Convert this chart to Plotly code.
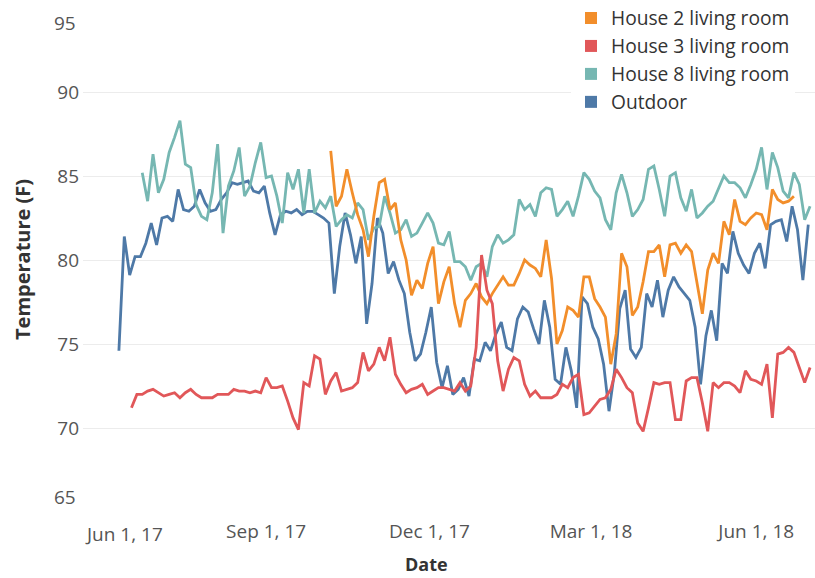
import pandas as pd
import plotly.graph_objects as go

# ---------------- data ----------------
series_names = ["House 2 living room", "House 3 living room", "House 8 living room", "Outdoor"]
series_colors = ["#f28e2b", "#e15759", "#76b7b2", "#4e79a7"]

outdoor_start = "2017-06-11"
outdoor_values = [
    74.6, 81.4, 79.1, 80.2, 80.2, 81.0, 82.2, 80.9, 82.5, 82.6,
    82.3, 84.2, 83.0, 82.9, 83.2, 84.2, 83.4, 82.9, 83.0, 83.6,
    84.0, 84.6, 84.5, 84.6, 84.7, 84.1, 84.0, 84.4, 82.8, 81.5,
    82.7, 82.9, 82.8, 83.0, 82.7, 82.9, 82.9, 82.7, 82.5, 82.2,
    78.0, 80.8, 82.8, 81.5, 79.8, 81.4, 76.2, 78.6, 82.5, 81.6,
    79.2, 79.9, 78.8, 78.0, 75.7, 74.0, 74.4, 75.7, 77.2, 73.9,
    72.4, 73.7, 72.0, 72.3, 73.0, 71.9, 74.1, 74.0, 75.1, 74.6,
    75.6, 76.3, 74.8, 74.6, 76.5, 77.2, 76.9, 75.9, 75.0, 77.6,
    76.0, 72.9, 72.6, 74.8, 73.4, 71.2, 77.8, 77.4, 76.0, 75.3,
    73.8, 71.0, 73.3, 77.1, 78.2, 74.7, 74.2, 74.8, 78.0, 77.2,
    78.8, 76.6, 78.2, 79.0, 78.4, 78.0, 77.6, 76.0, 72.6, 75.5,
    77.0, 75.2, 79.8, 79.2, 81.7, 80.4, 79.7, 79.2, 80.4, 81.0,
    79.5, 82.1, 82.3, 82.4, 81.1, 83.2, 81.8, 78.8, 82.1,
]

house8_start = "2017-06-24"
house8_values = [
    85.2, 83.5, 86.3, 84.0, 84.8, 86.4, 87.3, 88.3, 85.7, 85.5,
    83.3, 82.6, 82.4, 84.0, 86.9, 81.6, 84.4, 85.3, 86.7, 83.8,
    84.4, 85.8, 87.0, 84.9, 85.0, 83.8, 82.2, 85.2, 84.2, 85.4,
    82.8, 85.4, 82.8, 83.5, 83.1, 83.8, 82.0, 82.4, 82.7, 82.5,
    83.4, 83.0, 81.2, 81.9, 82.0, 83.8, 82.8, 81.6, 81.8, 82.4,
    81.4, 81.6, 82.2, 82.8, 82.2, 81.0, 80.9, 81.7, 79.9, 79.9,
    79.6, 78.8, 79.6, 79.8, 79.0, 80.8, 81.5, 81.0, 81.2, 81.5,
    83.6, 83.0, 83.3, 82.6, 84.0, 84.3, 84.2, 82.6, 83.0, 83.5,
    82.6, 83.8, 85.2, 84.8, 84.1, 83.7, 82.4, 81.8, 84.0, 85.1,
    84.0, 82.6, 83.0, 83.6, 85.4, 85.6, 84.2, 82.6, 85.0, 85.2,
    83.7, 82.9, 84.2, 82.5, 82.8, 83.2, 83.5, 84.3, 85.0, 84.6,
    84.6, 84.3, 83.7, 84.5, 85.4, 86.7, 84.2, 86.4, 85.5, 84.1,
    83.7, 85.2, 84.5, 82.4, 83.2,
]

house3_start = "2017-06-18"
house3_values = [
    71.2, 72.0, 72.0, 72.2, 72.3, 72.1, 71.9, 72.0, 72.1, 71.8,
    72.1, 72.3, 72.0, 71.8, 71.8, 71.8, 72.0, 72.0, 72.0, 72.3,
    72.2, 72.2, 72.1, 72.2, 72.1, 73.0, 72.4, 72.4, 72.5, 71.6,
    70.6, 69.9, 72.7, 72.5, 74.3, 74.1, 72.0, 72.8, 73.3, 72.2,
    72.3, 72.4, 72.7, 74.5, 73.4, 73.8, 74.8, 74.0, 75.4, 73.2,
    72.6, 72.1, 72.3, 72.4, 72.6, 72.0, 72.2, 72.4, 72.4, 72.3,
    72.2, 72.7, 72.2, 72.5, 74.8, 80.3, 78.2, 77.4, 74.0, 72.2,
    73.5, 74.2, 74.0, 72.6, 71.9, 72.2, 71.8, 71.8, 71.8, 72.0,
    72.6, 72.4, 73.0, 73.2, 70.8, 70.9, 71.3, 71.7, 71.8, 72.3,
    73.5, 73.0, 72.4, 72.1, 70.3, 69.8, 71.2, 72.7, 72.6, 72.7,
    72.7, 70.5, 70.5, 72.8, 73.0, 73.0, 71.5, 69.8, 72.7, 72.4,
    72.7, 72.7, 72.5, 72.1, 73.4, 72.9, 72.8, 72.6, 73.8, 70.6,
    74.4, 74.5, 74.8, 74.5, 73.6, 72.7, 73.6,
]

house2_start = "2017-10-07"
house2_values = [
    86.5, 83.2, 83.8, 85.4, 84.0, 82.7, 81.8, 80.2, 82.6, 84.6,
    84.8, 83.0, 83.4, 81.2, 80.0, 77.9, 78.8, 78.3, 79.8, 80.8,
    77.4, 78.7, 79.6, 77.4, 76.0, 77.6, 78.0, 78.6, 77.8, 77.4,
    78.0, 78.5, 79.0, 78.5, 78.5, 79.2, 80.0, 79.7, 79.5, 79.0,
    81.2, 78.9, 75.0, 75.8, 77.2, 77.0, 76.6, 79.0, 79.0, 77.7,
    77.2, 76.6, 73.8, 75.6, 80.4, 79.6, 76.7, 77.2, 78.7, 80.5,
    80.5, 80.9, 79.0, 80.9, 81.0, 80.4, 80.9, 80.5, 78.6, 76.8,
    79.4, 80.4, 79.8, 82.3, 81.5, 83.6, 82.3, 82.1, 82.5, 82.8,
    82.7, 81.8, 84.2, 83.6, 83.4, 83.5, 83.8,
]
sample_step = "3D"

y_tick_values = [65, 70, 75, 80, 85, 90, 95]
x_tick_values = ["2017-09-01", "2017-12-01", "2018-03-01", "2018-06-01"]
x_tick_labels = ["Sep 1, 17", "Dec 1, 17", "Mar 1, 18", "Jun 1, 18"]
first_x_label = "Jun 1, 17"

# ---------------- figure ----------------
FONT = "Open Sans"
TICK_COLOR = "#555555"
TITLE_COLOR = "#333333"
PLOT_L, PLOT_T, PLOT_W, PLOT_H = 83, 8, 732, 504


def dates(start, values):
    return pd.date_range(start=start, periods=len(values), freq=sample_step)


series = {
    "Outdoor": (outdoor_start, outdoor_values),
    "House 8 living room": (house8_start, house8_values),
    "House 2 living room": (house2_start, house2_values),
    "House 3 living room": (house3_start, house3_values),
}
color_of = dict(zip(series_names, series_colors))

fig = go.Figure()
for name in ["Outdoor", "House 8 living room", "House 2 living room", "House 3 living room"]:
    start, vals = series[name]
    fig.add_trace(go.Scatter(
        x=dates(start, vals), y=vals, mode="lines", name=name,
        line=dict(color=color_of[name], width=2.8),
        showlegend=False,
    ))

# legend swatches (square, Tableau style)
for name in series_names:
    fig.add_trace(go.Scatter(
        x=[None], y=[None], mode="markers", name=name,
        marker=dict(symbol="square", size=12, color=color_of[name]),
        showlegend=True,
    ))

annotations = [
    dict(text="95", xref="paper", x=0, xanchor="right", xshift=-5,
         yref="y", y=95, yanchor="top", showarrow=False,
         font=dict(family=FONT, size=19, color=TICK_COLOR)),
    dict(text="65", xref="paper", x=0, xanchor="right", xshift=-5,
         yref="y", y=65, yanchor="bottom", showarrow=False,
         font=dict(family=FONT, size=19, color=TICK_COLOR)),
    dict(text=first_x_label, xref="paper", x=0, xanchor="left", xshift=0,
         yref="paper", y=0, yanchor="top", yshift=-7, showarrow=False,
         font=dict(family=FONT, size=19, color=TICK_COLOR)),
    dict(text="<b>Date</b>", xref="paper", x=(426 - PLOT_L) / PLOT_W, xanchor="center",
         yref="paper", y=0, yanchor="middle", yshift=-52, showarrow=False,
         font=dict(family=FONT, size=18, color=TITLE_COLOR)),
    dict(text="<b>Temperature (F)</b>", xref="paper", x=0, xanchor="center",
         xshift=-61, yref="paper", y=0.5, yanchor="middle", textangle=-90,
         showarrow=False, font=dict(family=FONT, size=20, color=TITLE_COLOR)),
]

fig.update_layout(
    width=815, height=578,
    margin=dict(l=PLOT_L, r=0, t=PLOT_T, b=578 - PLOT_T - PLOT_H, autoexpand=False),
    paper_bgcolor="white", plot_bgcolor="white",
    font=dict(family=FONT, size=19, color=TICK_COLOR),
    showlegend=True,
    legend=dict(
        xref="paper", yref="paper",
        x=(571 - PLOT_L) / PLOT_W, y=1 + 9 / PLOT_H,
        xanchor="left", yanchor="top",
        bgcolor="white", borderwidth=0,
        font=dict(family=FONT, size=19.2, color=TITLE_COLOR),
        itemwidth=30, tracegroupgap=0,
    ),
    annotations=annotations,
    xaxis=dict(
        type="date",
        range=["2017-05-22", "2018-07-03 18:00"],
        tickvals=x_tick_values, ticktext=x_tick_labels,
        showgrid=False, zeroline=False, showline=False, ticks="",
        ticklabelstandoff=6,
        tickfont=dict(family=FONT, size=19, color=TICK_COLOR),
    ),
    yaxis=dict(
        range=[65, 95],
        tickvals=y_tick_values,
        ticktext=["" if v in (65, 95) else str(v) for v in y_tick_values],
        showgrid=True, gridcolor="#ececec", gridwidth=1,
        zeroline=False, showline=False, ticks="",
        ticklabelstandoff=3,
        tickfont=dict(family=FONT, size=19, color=TICK_COLOR),
    ),
)

fig.write_html(
    "out.html",
    config={"displayModeBar": False},
    post_script="document.body.style.margin='0';document.body.style.overflow='hidden';",
)
